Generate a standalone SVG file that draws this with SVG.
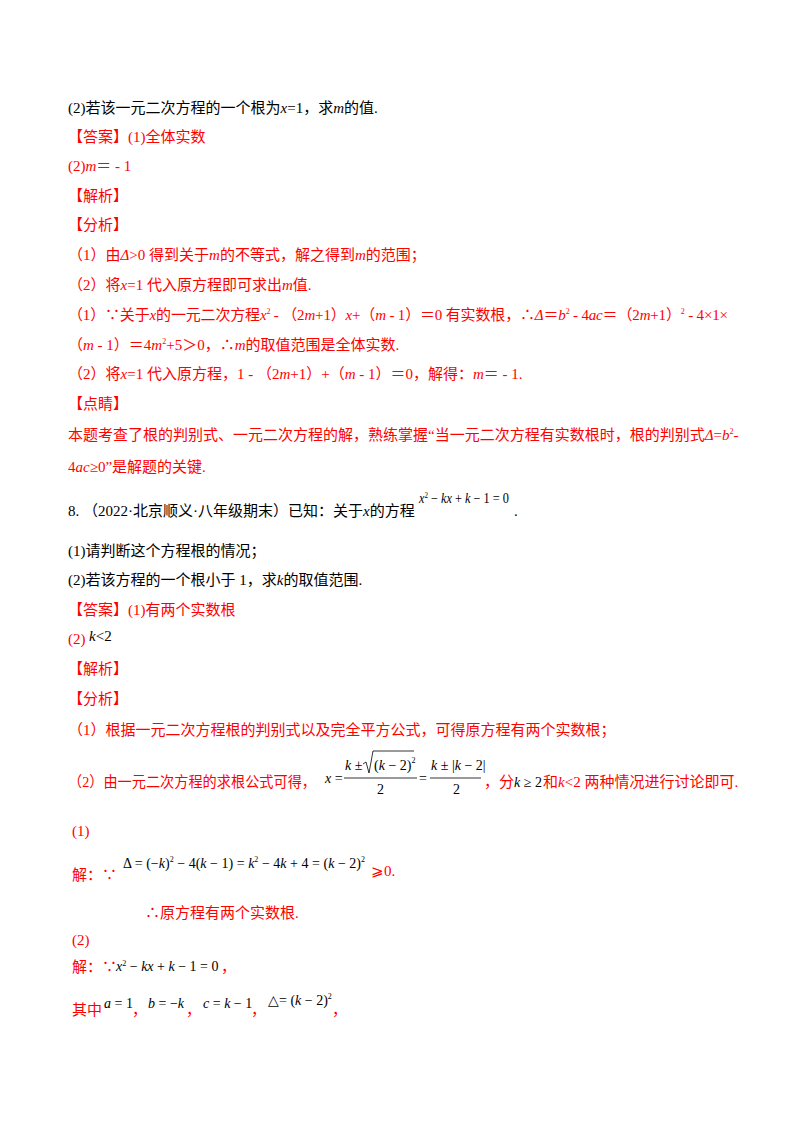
<svg xmlns="http://www.w3.org/2000/svg" width="800" height="1132" viewBox="0 0 800 1132">
<style>
text{font-family:"Liberation Serif","Noto Sans CJK SC",serif;font-size:15px;fill:#000}
.r{fill:#ff0000}
.m{font-family:"Liberation Serif",serif;font-size:14px}
.s{font-size:8px}
</style>
<rect width="800" height="1132" fill="#fff"/>
<text x="68" y="113">(2)若该一元二次方程的一个根为<tspan font-style="italic">x</tspan>=1，求<tspan font-style="italic">m</tspan>的值.</text>
<text class="r" x="68" y="142">【答案】(1)全体实数</text>
<text class="r" x="68" y="171">(2)<tspan font-style="italic">m</tspan>＝ - 1</text>
<text class="r" x="68" y="201">【解析】</text>
<text class="r" x="68" y="230">【分析】</text>
<text class="r" x="68" y="260">（1）由<tspan font-style="italic">Δ</tspan>&gt;0 得到关于<tspan font-style="italic">m</tspan>的不等式，解之得到<tspan font-style="italic">m</tspan>的范围；</text>
<text class="r" x="68" y="290">（2）将<tspan font-style="italic">x</tspan>=1 代入原方程即可求出<tspan font-style="italic">m</tspan>值.</text>
<text class="r" x="68" y="320" textLength="660" lengthAdjust="spacing">（1）∵关于<tspan font-style="italic">x</tspan>的一元二次方程<tspan font-style="italic">x</tspan><tspan class="s" dy="-6">2</tspan><tspan dy="6"> - （2</tspan><tspan font-style="italic">m</tspan>+1）<tspan font-style="italic">x</tspan>+（<tspan font-style="italic">m</tspan> - 1）＝0 有实数根，∴<tspan font-style="italic">Δ</tspan>＝<tspan font-style="italic">b</tspan><tspan class="s" dy="-6">2</tspan><tspan dy="6"> - 4</tspan><tspan font-style="italic">ac</tspan>＝（2<tspan font-style="italic">m</tspan>+1）<tspan class="s" dy="-6">2</tspan><tspan dy="6"> - 4×1×</tspan></text>
<text class="r" x="68" y="350">（<tspan font-style="italic">m</tspan> - 1）＝4<tspan font-style="italic">m</tspan><tspan class="s" dy="-6">2</tspan><tspan dy="6">+5＞0，∴</tspan><tspan font-style="italic">m</tspan>的取值范围是全体实数.</text>
<text class="r" x="68" y="379">（2）将<tspan font-style="italic">x</tspan>=1 代入原方程，1 - （2<tspan font-style="italic">m</tspan>+1）+（<tspan font-style="italic">m</tspan> - 1）＝0，解得：<tspan font-style="italic">m</tspan>＝ - 1.</text>
<text class="r" x="68" y="409">【点睛】</text>
<text class="r" x="68" y="440">本题考查了根的判别式、一元二次方程的解，熟练掌握“当一元二次方程有实数根时，根的判别式<tspan font-style="italic">Δ</tspan>=<tspan font-style="italic">b</tspan><tspan class="s" dy="-6">2</tspan><tspan dy="6">-</tspan></text>
<text class="r" x="68" y="472">4<tspan font-style="italic">ac</tspan>≥0”是解题的关键.</text>
<text x="68" y="516">8.  （2022·北京顺义·八年级期末）已知：关于<tspan font-style="italic">x</tspan>的方程</text>
<text class="m" x="419" y="503" textLength="90" lengthAdjust="spacingAndGlyphs"><tspan font-style="italic">x</tspan><tspan class="s" dy="-5">2</tspan><tspan dy="5"> − </tspan><tspan font-style="italic">kx</tspan> + <tspan font-style="italic">k</tspan> − 1 = 0</text>
<text x="514" y="516">.</text>
<text x="68" y="556">(1)请判断这个方程根的情况；</text>
<text x="68" y="585">(2)若该方程的一个根小于 1，求<tspan font-style="italic">k</tspan>的取值范围.</text>
<text class="r" x="68" y="615">【答案】(1)有两个实数根</text>
<text class="r" x="68" y="644">(2)</text>
<text x="89" y="641"><tspan font-style="italic">k</tspan>&lt;2</text>
<text class="r" x="68" y="674">【解析】</text>
<text class="r" x="68" y="704">【分析】</text>
<text class="r" x="68" y="735">（1）根据一元二次方程根的判别式以及完全平方公式，可得原方程有两个实数根；</text>
<text class="r" x="68" y="787" textLength="248" lengthAdjust="spacingAndGlyphs">（2）由一元二次方程的求根公式可得，</text>
<g>
<text class="m" x="325" y="783"><tspan font-style="italic">x</tspan> =</text>
<text class="m" x="345" y="770"><tspan font-style="italic">k</tspan> ±</text>
<path d="M363 764 L366 762 L369 773 L373 751 L414 751" fill="none" stroke="#000" stroke-width="0.8"/>
<text class="m" x="374" y="770">(<tspan font-style="italic">k</tspan> − 2)<tspan class="s" dy="-7">2</tspan></text>
<line x1="344" y1="778" x2="417" y2="778" stroke="#000" stroke-width="0.8"/>
<text class="m" x="377" y="794">2</text>
<text class="m" x="419" y="783">=</text>
<text class="m" x="431" y="770"><tspan font-style="italic">k</tspan> ± |<tspan font-style="italic">k</tspan> − 2|</text>
<line x1="430" y1="778" x2="481" y2="778" stroke="#000" stroke-width="0.8"/>
<text class="m" x="453" y="794">2</text>
</g>
<text class="r" x="484" y="787">，分</text>
<text class="m" x="514" y="787"><tspan font-style="italic">k</tspan> ≥ 2</text>
<text class="r" x="543" y="787">和<tspan font-style="italic">k</tspan>&lt;2 两种情况进行讨论即可.</text>
<text class="r" x="72" y="836">(1)</text>
<text class="r" x="72" y="880">解：∵</text>
<text class="m" x="123" y="868" textLength="242" lengthAdjust="spacing">Δ = (−<tspan font-style="italic">k</tspan>)<tspan class="s" dy="-6">2</tspan><tspan dy="6"> − 4(</tspan><tspan font-style="italic">k</tspan> − 1) = <tspan font-style="italic">k</tspan><tspan class="s" dy="-6">2</tspan><tspan dy="6"> − 4</tspan><tspan font-style="italic">k</tspan> + 4 = (<tspan font-style="italic">k</tspan> − 2)<tspan class="s" dy="-6">2</tspan></text>
<text class="r" x="371" y="876">⩾0.</text>
<text class="r" x="145" y="918">∴原方程有两个实数根.</text>
<text class="r" x="72" y="945">(2)</text>
<text class="r" x="72" y="972">解：∵</text>
<text class="m" x="116" y="971"><tspan font-style="italic">x</tspan><tspan class="s" dy="-5">2</tspan><tspan dy="5"> − </tspan><tspan font-style="italic">kx</tspan> + <tspan font-style="italic">k</tspan> − 1 = 0</text>
<text class="r" x="221" y="972">，</text>
<text class="r" x="72" y="1015">其中</text>
<text class="m" x="104" y="1008"><tspan font-style="italic">a</tspan> = 1</text>
<text class="r" x="132" y="1015">，</text>
<text class="m" x="148" y="1008"><tspan font-style="italic">b</tspan> = −<tspan font-style="italic">k</tspan></text>
<text class="r" x="186" y="1015">，</text>
<text class="m" x="203" y="1008"><tspan font-style="italic">c</tspan> = <tspan font-style="italic">k</tspan> − 1</text>
<text class="r" x="251" y="1015">，</text>
<text class="m" x="268" y="1005">△= (<tspan font-style="italic">k</tspan> − 2)<tspan class="s" dy="-6">2</tspan></text>
<text class="r" x="332" y="1015">，</text>
</svg>
